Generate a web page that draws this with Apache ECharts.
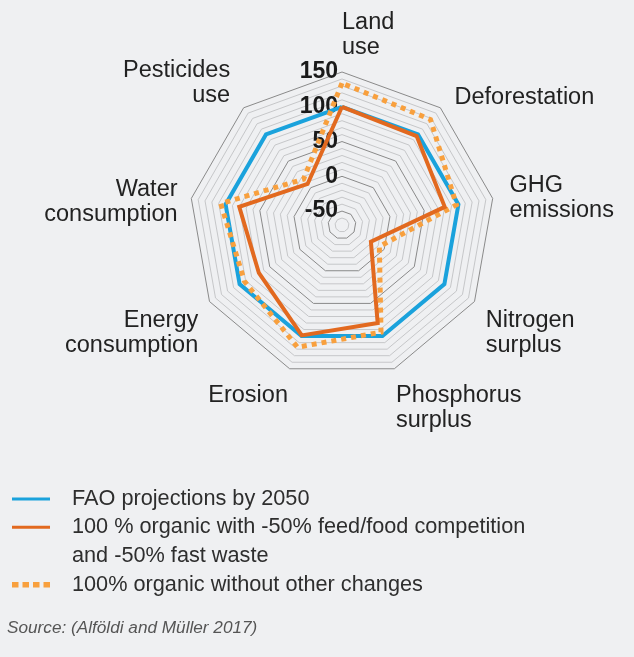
<!DOCTYPE html>
<html><head><meta charset="utf-8">
<script src="https://cdn.jsdelivr.net/npm/echarts@6/dist/echarts.min.js"></script>
<style>html,body{margin:0;padding:0;background:#eff0f2}#chart{width:634px;height:657px}</style>
</head><body><div id="chart"></div>
<script>
// ---- data ----
const categories = ['Land\nuse', 'Deforestation', 'GHG\nemissions', 'Nitrogen\nsurplus', 'Phosphorus\nsurplus', 'Erosion', 'Energy\nconsumption', 'Water\nconsumption', 'Pesticides\nuse'];
const seriesNames = ['FAO projections by 2050', '100 % organic with -50% feed/food competition\nand -50% fast waste', '100% organic without other changes'];
const faoValues = [100, 100, 100, 100, 100, 100, 100, 100, 100];
const organicReducedValues = [100, 97, 80, -22, 80, 99, 68, 80, 7];
const organicOnlyValues = [134, 128, 97, -8, 94, 117, 92, 107, 16];
const tickLabels = [-50, 0, 50, 100, 150];
const axisMin = -70;
const axisMax = 150;
const axisStep = 10;
const sourceText = 'Source: (Alföldi and Müller 2017)';

// ---- layout / style ----
const FONT = "'Liberation Sans', Arial, Helvetica, sans-serif";
const colors = ['#1aa2dc', '#e2691f', '#f8a03e'];
// spacer: invisible line (height in px) added above (+) or below (-) the name
const nameLayout = {
  'Land\nuse': { gap: 12, align: 'left', verticalAlign: 'bottom', padding: 0, spacer: 0 },
  'Deforestation': { gap: 22, align: 'left', verticalAlign: 'middle', padding: 0, spacer: 14 },
  'GHG\nemissions': { gap: 17, align: 'left', verticalAlign: 'middle', padding: 0, spacer: 5 },
  'Nitrogen\nsurplus': { gap: 13, align: 'left', verticalAlign: 'top', padding: 0, spacer: 0 },
  'Phosphorus\nsurplus': { gap: 5, align: 'left', verticalAlign: 'top', padding: [10, 0, 0, 0], spacer: 0 },
  'Erosion': { gap: 5, align: 'right', verticalAlign: 'top', padding: [10, 0, 0, 0], spacer: 0 },
  'Energy\nconsumption': { gap: 13, align: 'right', verticalAlign: 'top', padding: 0, spacer: 0 },
  'Water\nconsumption': { gap: 14, align: 'right', verticalAlign: 'middle', padding: 0, spacer: 12 },
  'Pesticides\nuse': { gap: 21, align: 'right', verticalAlign: 'middle', padding: 0, spacer: -18 }
};
const spacerRich = {};
Object.keys(nameLayout).forEach(k => {
  const s = Math.abs(nameLayout[k].spacer);
  if (s) spacerRich['sp' + s] = { fontSize: 1, lineHeight: s };
});
function nameFormatter(name) {
  const L = nameLayout[name];
  if (!L || !L.spacer) return name;
  const tag = '{sp' + Math.abs(L.spacer) + '| }';
  return L.spacer > 0 ? tag + '\n' + name : name + '\n' + tag;
}

// ECharts lays indicators counter-clockwise; the reference runs clockwise.
const n = categories.length;
const order = categories.map((_, k) => (n - k) % n);
const reorder = arr => order.map(i => arr[i]);

const tickAxisLabel = {
  show: true,
  formatter: v => (tickLabels.indexOf(Math.round(v)) >= 0 ? String(Math.round(v)) : ''),
  color: '#1a1a1a',
  fontWeight: 'bold',
  fontSize: 23,
  fontFamily: FONT,
  align: 'right',
  margin: 4
};

const indicator = order.map(i => {
  const L = nameLayout[categories[i]];
  return {
    name: categories[i],
    min: axisMin,
    max: axisMax,
    nameGap: L.gap,
    nameTextStyle: { align: L.align, verticalAlign: L.verticalAlign, padding: L.padding },
    axisLabel: i === 0 ? tickAxisLabel : { show: false }
  };
});

const light = '#c6c7c9', dark = '#8a8a8a';

const solidIcon = 'path://M0,0h38v3h-38z M54.99,0h0.01v0.01h-0.01z';
const solidIcon2 = 'path://M0,12.75h38v3h-38z M0,0h0.01v0.01h-0.01z M54.99,56.99h0.01v0.01h-0.01z';
const dotIcon = 'path://M0,0h6.5v5.5h-6.5z M10.5,0h6.5v5.5h-6.5z M21,0h6.5v5.5h-6.5z M31.5,0h6.5v5.5h-6.5z M54.99,0h0.01v0.01h-0.01z';

const legendText = { fontSize: 21.7, fontFamily: FONT, color: '#2e2e2e', lineHeight: 28.5 };
function legendFor(idx, icon, h, top) {
  return {
    data: [{ name: seriesNames[idx], icon: icon, itemStyle: { color: colors[idx], borderWidth: 0 } }],
    orient: 'vertical', left: 12, top: top, padding: 0,
    itemWidth: 55, itemHeight: h, selectedMode: false,
    textStyle: legendText
  };
}

const chart = echarts.init(document.getElementById('chart'), null, { renderer: 'canvas' });
chart.setOption({
  backgroundColor: '#eff0f2',
  animation: false,
  title: {
    text: sourceText, left: 7, top: 618, padding: 0,
    textStyle: { fontStyle: 'italic', fontWeight: 'normal', fontSize: 17.2, fontFamily: FONT, color: '#555', lineHeight: 20 }
  },
  legend: [
    legendFor(0, solidIcon, 3, 484.75),
    legendFor(1, solidIcon2, 57, 513),
    legendFor(2, dotIcon, 5.5, 570.5)
  ],
  radar: {
    center: [342, 225],
    radius: 153,
    startAngle: 90,
    shape: 'polygon',
    splitNumber: (axisMax - axisMin) / axisStep,
    indicator: indicator,
    axisName: { color: '#222', fontSize: 23.5, fontFamily: FONT, lineHeight: 25, formatter: nameFormatter, rich: spacerRich },
    nameGap: 12,
    axisLine: { show: false },
    axisTick: { show: false },
    axisLabel: { show: false },
    splitLine: { lineStyle: { color: [light, light, dark, light, light], width: 1 } },
    splitArea: { show: false }
  },
  series: [
    {
      type: 'radar', symbol: 'none', silent: true, z: 2,
      lineStyle: { color: colors[0], width: 4, join: 'miter' },
      itemStyle: { color: colors[0] },
      data: [{ name: seriesNames[0], value: reorder(faoValues) }]
    },
    {
      type: 'radar', symbol: 'none', silent: true, z: 3,
      lineStyle: { color: colors[2], width: 5, type: [5, 5], cap: 'butt', join: 'miter' },
      itemStyle: { color: colors[2] },
      data: [{ name: seriesNames[2], value: reorder(organicOnlyValues) }]
    },
    {
      type: 'radar', symbol: 'none', silent: true, z: 4,
      lineStyle: { color: colors[1], width: 4, join: 'miter' },
      itemStyle: { color: colors[1] },
      data: [{ name: seriesNames[1], value: reorder(organicReducedValues) }]
    }
  ]
});
</script></body></html>
